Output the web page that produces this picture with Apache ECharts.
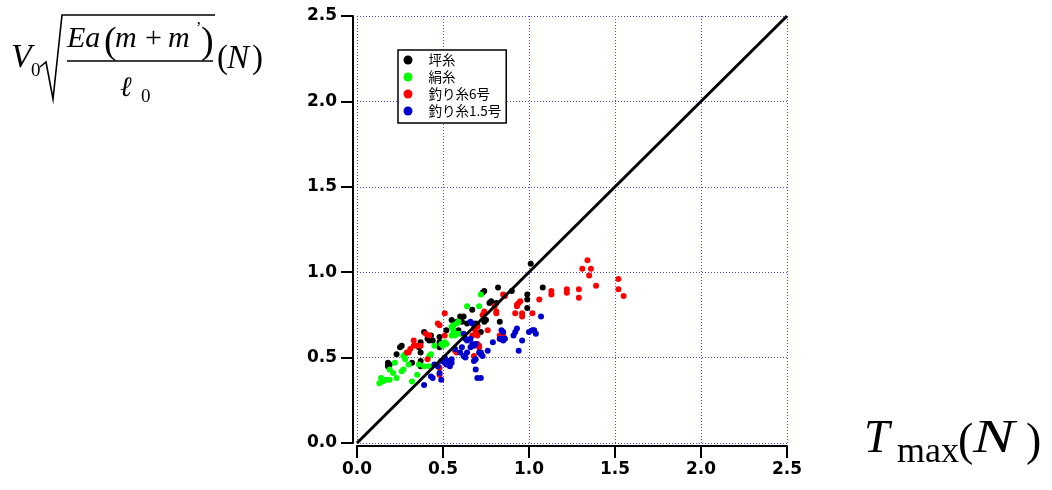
<!DOCTYPE html>
<html><head><meta charset="utf-8">
<script src="https://cdn.jsdelivr.net/npm/echarts@6/dist/echarts.min.js"></script>
<style>html,body{margin:0;padding:0;background:#fff}#c{width:1052px;height:490px}</style>
</head><body><div id="c"></div>
<script>
// ---- data (x = Tmax (N), y = V0*sqrt(Ea(m+m')/l0) (N)) ----
const seriesNames = ['坪糸', '絹糸', '釣り糸6号', '釣り糸1.5号'];
const seriesColors = ['#000000', '#00ff00', '#ff0000', '#0000cc'];

const tsuboito = [
  [0.18,0.47],[0.18,0.45],[0.19,0.46],[0.23,0.52],[0.25,0.56],[0.26,0.57],[0.32,0.47],[0.36,0.56],
  [0.37,0.53],[0.37,0.59],[0.37,0.48],[0.37,0.45],[0.39,0.65],[0.41,0.61],[0.42,0.60],[0.43,0.63],
  [0.44,0.60],[0.48,0.56],[0.48,0.62],[0.48,0.59],[0.52,0.66],[0.55,0.72],[0.57,0.70],[0.58,0.71],
  [0.59,0.66],[0.60,0.74],[0.61,0.71],[0.62,0.74],[0.64,0.70],[0.67,0.78],[0.69,0.70],[0.70,0.69],
  [0.72,0.65],[0.73,0.88],[0.74,0.89],[0.74,0.71],[0.75,0.72],[0.77,0.82],[0.78,0.83],[0.81,0.82],
  [0.82,0.91],[0.83,0.71],[0.90,0.89],[0.99,0.87],[0.99,0.84],[0.99,0.79],[1.01,1.05],[1.08,0.91]
];
const kinuito = [
  [0.13,0.35],[0.14,0.38],[0.15,0.36],[0.17,0.37],[0.19,0.37],[0.19,0.43],[0.21,0.41],[0.22,0.47],
  [0.23,0.38],[0.26,0.42],[0.27,0.43],[0.27,0.51],[0.28,0.52],[0.28,0.49],[0.30,0.46],[0.32,0.36],
  [0.35,0.40],[0.36,0.46],[0.39,0.45],[0.42,0.45],[0.42,0.51],[0.43,0.52],[0.45,0.57],[0.49,0.58],
  [0.50,0.57],[0.51,0.59],[0.52,0.58],[0.55,0.63],[0.56,0.64],[0.57,0.63],[0.58,0.64],[0.60,0.64],
  [0.56,0.69],[0.55,0.68],[0.58,0.70],[0.59,0.71],[0.64,0.80],[0.71,0.80],[0.72,0.87],[0.56,0.66]
];
const tsuriito6 = [
  [0.29,0.53],[0.30,0.53],[0.31,0.55],[0.33,0.60],[0.33,0.57],[0.35,0.57],[0.37,0.57],[0.40,0.64],
  [0.42,0.63],[0.41,0.49],[0.47,0.70],[0.48,0.69],[0.48,0.40],[0.48,0.44],[0.51,0.63],[0.51,0.76],
  [0.57,0.54],[0.58,0.53],[0.67,0.63],[0.68,0.67],[0.68,0.51],[0.69,0.64],[0.69,0.65],[0.70,0.68],
  [0.70,0.63],[0.70,0.58],[0.71,0.56],[0.71,0.57],[0.73,0.75],[0.74,0.77],[0.76,0.66],[0.80,0.80],
  [0.81,0.77],[0.81,0.76],[0.83,0.63],[0.83,0.61],[0.85,0.63],[0.85,0.87],[0.86,0.86],[0.92,0.76],
  [0.93,0.81],[0.93,0.80],[0.94,0.82],[0.95,0.83],[0.96,0.76],[0.96,0.74],[1.02,0.76],[1.06,0.84],
  [1.13,0.89],[1.13,0.87],[1.22,0.90],[1.22,0.88],[1.29,0.90],[1.29,0.85],[1.31,1.02],[1.34,1.07],
  [1.35,0.98],[1.36,1.02],[1.39,0.92],[1.52,0.96],[1.52,0.90],[1.55,0.86]
];
const tsuriito15 = [
  [0.39,0.34],[0.43,0.39],[0.44,0.38],[0.45,0.46],[0.47,0.45],[0.48,0.41],[0.49,0.37],[0.49,0.48],
  [0.51,0.47],[0.51,0.50],[0.52,0.46],[0.53,0.48],[0.53,0.46],[0.54,0.45],[0.55,0.49],[0.55,0.47],
  [0.57,0.55],[0.60,0.53],[0.61,0.56],[0.62,0.51],[0.62,0.64],[0.63,0.61],[0.63,0.50],[0.64,0.53],
  [0.64,0.60],[0.66,0.56],[0.66,0.61],[0.66,0.71],[0.67,0.70],[0.67,0.58],[0.68,0.57],[0.68,0.48],
  [0.69,0.58],[0.69,0.49],[0.69,0.43],[0.70,0.38],[0.72,0.38],[0.71,0.53],[0.72,0.52],[0.72,0.53],
  [0.73,0.51],[0.76,0.54],[0.79,0.59],[0.83,0.61],[0.84,0.61],[0.84,0.66],[0.85,0.60],[0.85,0.65],
  [0.86,0.61],[0.91,0.63],[0.92,0.65],[0.93,0.67],[0.94,0.54],[0.96,0.60],[1.00,0.65],[1.02,0.66],
  [1.03,0.66],[1.04,0.64],[1.07,0.74]
];
const referenceLine = [[0, 0], [2.5, 2.5]];   // y = x
const tickLabels = ['0.0', '0.5', '1.0', '1.5', '2.0', '2.5'];
const axisMin = 0, axisMax = 2.5, axisStep = 0.5;

const allSeries = [tsuboito, kinuito, tsuriito6, tsuriito15];

const chart = echarts.init(document.getElementById('c'), null, {renderer: 'canvas'});
const serif = "'Liberation Serif','Times New Roman',serif";
const labelFont = {fontFamily: "'DejaVu Sans'", fontWeight: 'bold', fontSize: 17, color: '#000'};
const gridLine = {show: true, lineStyle: {color: '#4d4dff', type: [1, 2], width: 1}};

function axis(offset, margin) {
  return {
    type: 'value', min: axisMin, max: axisMax, interval: axisStep, offset: offset,
    axisLine: {show: true, onZero: false, lineStyle: {color: '#000', width: 2}},
    axisTick: {show: true, length: 12, lineStyle: {color: '#000', width: 2}},
    axisLabel: Object.assign({margin: margin, formatter: v => tickLabels[Math.round((v - axisMin) / axisStep)]}, labelFont),
    splitLine: gridLine
  };
}

function t(text, x, y, size, opts) {
  return Object.assign({
    type: 'text', x: x, y: y, silent: true,
    style: Object.assign({text: text, font: (opts && opts.italic ? 'italic ' : '') + size + 'px ' + serif,
      fill: '#000', verticalAlign: 'middle', align: 'left'}, (opts && opts.style) || {})
  }, (opts && opts.el) || {});
}

const graphics = [
  // top-left formula: V0 sqrt(Ea(m+m')/l0) (N)
  t('V', 11, 58, 34, {italic: true}),
  t('0', 31, 71, 19),
  {type: 'polyline', silent: true, shape: {points: [[40, 67], [46, 62], [53, 99], [62, 15], [215, 15]]},
   style: {stroke: '#000', lineWidth: 1.6, fill: null}},
  t('Ea', 67, 39, 30, {italic: true}),
  t('(', 104, 43, 38),
  t('m', 115, 39, 30, {italic: true}),
  t('+', 145, 39, 30),
  t('m', 168, 39, 30, {italic: true}),
  t('\u02BC', 196, 29, 16),
  t(')', 201, 43, 38),
  {type: 'line', silent: true, shape: {x1: 67, y1: 61, x2: 213, y2: 61}, style: {stroke: '#000', lineWidth: 1.6}},
  t('\u2113', 120, 89, 28, {italic: true}),
  t('0', 141, 97, 19),
  t('(', 217, 59, 33),
  t('N', 227, 59, 33, {italic: true}),
  t(')', 252, 59, 33),
  // bottom-right: Tmax (N)
  t('T', 864, 440, 46, {italic: true}),
  t('max', 897, 453, 36),
  t('(', 958, 443, 46),
  t('N', 973, 440, 46, {italic: true, el: {scaleX: 1.35, originX: 0, originY: 0}}),
  t(')', 1026, 443, 46)
];

const series = allSeries.map((d, i) => ({
  name: seriesNames[i], type: 'scatter', data: d, symbol: 'circle', symbolSize: 6,
  itemStyle: {color: seriesColors[i], opacity: 1}, z: 2 + i, silent: true
}));
series.push({
  type: 'line', data: referenceLine, symbol: 'none', silent: true, z: 10,
  lineStyle: {color: '#000', width: 3}
});

chart.setOption({
  animation: false,
  backgroundColor: '#fff',
  grid: {left: 357, right: 265, top: 16, bottom: 47, containLabel: false},
  xAxis: axis(3, 15),
  yAxis: axis(4, 16),
  legend: {
    data: seriesNames.map((n, i) => ({name: n, icon: 'circle', itemStyle: {color: seriesColors[i]}})),
    orient: 'vertical', left: 398, top: 50, itemWidth: 9, itemHeight: 9, itemGap: 3,
    padding: [3, 5, 5, 5.5], borderColor: '#000', borderWidth: 1.5, backgroundColor: '#fff',
    selectedMode: false,
    textStyle: {fontFamily: "'Noto Sans CJK JP'", fontSize: 13.5, color: '#000', lineHeight: 14, padding: [0, 0, 0, 11]}
  },
  series: series,
  graphic: graphics
});
</script></body></html>
